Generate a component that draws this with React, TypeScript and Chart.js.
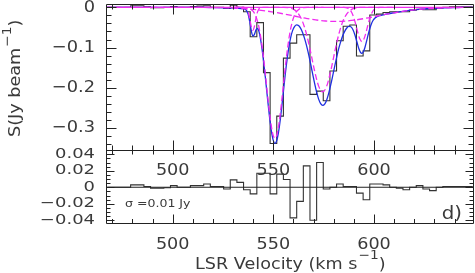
import React, { useEffect, useRef } from "react";
import { Chart, registerables } from "chart.js";

Chart.register(...registerables);

// ---------- DATA ----------
const channelVelocity = [
  467.55, 470.85, 474.15, 477.45, 480.75, 484.05, 487.35, 490.65, 493.95, 497.25,
  500.55, 503.85, 507.15, 510.45, 513.75, 517.05, 520.35, 523.65, 526.95, 530.25,
  533.55, 536.85, 540.15, 543.45, 546.75, 550.05, 553.35, 556.65, 559.95, 563.25,
  566.55, 569.85, 573.15, 576.45, 579.75, 583.05, 586.35, 589.65, 592.95, 596.25,
  599.55, 602.85, 606.15, 609.45, 612.75, 616.05, 619.35, 622.65, 625.95, 629.25,
  632.55, 635.85, 639.15, 642.45, 645.75, 649.05,
];

const spectrumFlux = [
  0, 0, 0, 0, 0.004, 0.004, 0.001, -0.001, -0.001, 0,
  0.002, 0, 0, 0.002, 0.003, 0.004, 0, 0, -0.003, 0.005,
  0, -0.011, -0.073, -0.038, -0.162, -0.338, -0.27, -0.126, -0.089, -0.068,
  -0.068, -0.216, -0.208, -0.232, -0.158, -0.083, -0.047, -0.044, -0.121, -0.108,
  -0.019, -0.017, -0.013, -0.011, -0.011, -0.011, -0.007, -0.005, -0.006, -0.006,
  -0.002, 0, 0.001, 0.001, 0.001, 0.001,
];

const residualFlux = [
  0, 0, 0, 0, 0.003, 0.003, 0.001, -0.001, -0.001, -0.0005,
  0.002, 0, 0, 0.002, 0.002, 0.004, 0.001, 0.001, -0.002, 0.009,
  0.006, -0.003, -0.008, 0.017, 0.017, -0.008, 0.016, 0.0095, -0.037, -0.017,
  0.026, -0.04, 0.03, -0.002, 0, 0.004, 0.001, 0.001, -0.007, -0.015,
  0.004, 0.004, 0.003, 0, -0.001, -0.003, 0, 0.002, -0.002, -0.004,
  0, 0.001, 0.001, 0.001, 0.001, 0.001,
];

// total fit (blue)
const fitVelocity = [
  467, 490, 505, 515, 522, 528, 532, 535, 536.5, 537.5, 538.3, 539, 539.8, 540.6, 541.4,
  542.2, 543, 544, 545, 546, 547, 548, 549, 550, 550.8, 551.6, 552.6, 553.6, 554.6, 555.6,
  556.6, 557.6, 558.6, 559.6, 560.6, 561.6, 562.5, 563.5, 564.5, 565.5, 566.5, 567.5, 568.5,
  569.5, 570.5, 571.5, 572.5, 573.5, 574.5, 575.5, 576.5, 577.5, 578.5, 579.5, 580.5, 581.5,
  582.5, 583.5, 584.5, 585.5, 586.5, 587.5, 588.5, 589.5, 590.5, 591.5, 592.5, 593.3, 594,
  594.7, 595.5, 596.5, 597.5, 598.5, 599.5, 600.5, 601.5, 603, 606, 610, 615, 620, 625, 630,
  635, 640, 645, 650,
];
const fitFlux = [
  0, 0, -0.0001, -0.0003, -0.0007, -0.0014, -0.0023, -0.0035, -0.0067, -0.0177, -0.0367, -0.0569, -0.071, -0.0672, -0.0561,
  -0.0526, -0.0628, -0.0899, -0.1276, -0.1725, -0.221, -0.2676, -0.306, -0.3308, -0.3374, -0.3321, -0.309, -0.2724, -0.2277, -0.181,
  -0.138, -0.1023, -0.0753, -0.0573, -0.0473, -0.0438, -0.0454, -0.0518, -0.0624, -0.077, -0.095, -0.1163, -0.14,
  -0.1647, -0.1889, -0.2105, -0.2278, -0.2391, -0.2434, -0.2401, -0.2298, -0.2134, -0.1927, -0.1695, -0.1457, -0.1228,
  -0.1021, -0.0844, -0.07, -0.059, -0.0513, -0.0475, -0.0483, -0.055, -0.0681, -0.0856, -0.1028, -0.1118, -0.1142,
  -0.1104, -0.0996, -0.0802, -0.06, -0.0437, -0.0328, -0.0264, -0.023, -0.0204, -0.0172, -0.0135, -0.0094, -0.0062, -0.0039, -0.0023,
  -0.0013, -0.0007, -0.0003, 0,
];

// fit components (magenta dashed)
const comp1Velocity = [530, 535, 536.5, 537.5, 538.3, 539, 539.8, 540.6, 541.3, 542.1, 543.1, 544.5, 550];
const comp1Flux = [0, 0, -0.0023, -0.0119, -0.0293, -0.0472, -0.057, -0.0472, -0.0293, -0.0119, -0.0023, 0, 0];

const comp2Velocity = [
  530, 535, 538, 539, 540, 541, 542, 543, 544, 545, 546, 547, 548, 549, 550, 550.8, 551.6,
  552.6, 553.6, 554.6, 555.6, 556.6, 557.6, 558.6, 559.6, 560.6, 561.6, 562.6, 563.6, 565, 567, 575,
];
const comp2Flux = [
  0, 0, -0.0025, -0.0052, -0.0101, -0.0187, -0.0325, -0.0532, -0.0822, -0.1195, -0.1638, -0.2116, -0.2574, -0.295, -0.319, -0.325, -0.319,
  -0.295, -0.2574, -0.2116, -0.1638, -0.1195, -0.0822, -0.0532, -0.0325, -0.0187, -0.0101, -0.0052, -0.0025, -0.0008, 0, 0,
];

const comp3Velocity = [
  550, 555, 558.5, 560.5, 562.5, 564.5, 566.5, 568.5, 570.5, 572.5, 574.5, 576.5, 578.5,
  580.5, 582.5, 584.5, 586.5, 588.5, 590.5, 594, 600,
];
const comp3Flux = [
  0, 0, -0.0022, -0.0064, -0.0162, -0.0354, -0.0672, -0.1107, -0.158, -0.1956, -0.21, -0.1956, -0.158,
  -0.1107, -0.0672, -0.0354, -0.0162, -0.0064, -0.0022, 0, 0,
];

const comp4Velocity = [580, 585, 587, 588, 589, 590, 591, 592, 593, 594, 595, 596, 597, 598, 599, 600, 601, 603, 610];
const comp4Flux = [0, 0, -0.0023, -0.0059, -0.0134, -0.026, -0.0437, -0.0632, -0.0789, -0.085, -0.0789, -0.0632, -0.0437, -0.026, -0.0134, -0.0059, -0.0023, 0, 0];

const comp5Velocity = [467, 510, 520, 530, 540, 550, 556, 561, 566, 571, 576, 581, 586, 591, 596, 601, 606, 612, 622, 632, 642, 650];
const comp5Flux = [0, 0, -0.0005, -0.0019, -0.0052, -0.0118, -0.0172, -0.0222, -0.0271, -0.0313, -0.034, -0.035, -0.034, -0.0313, -0.0271, -0.0222, -0.0172, -0.0118, -0.0052, -0.0019, -0.0005, 0];

// axes and labels
const xRange = [466.87, 649.68];
const xTickValues = [500, 550, 600];
const xTickLabels = ["500", "550", "600"];
const topYTickValues = [0, -0.1, -0.2, -0.3];
const topYTickLabels = ["0", "\u22120.1", "\u22120.2", "\u22120.3"];
const bottomYTickValues = [0.04, 0.02, 0, -0.02, -0.04];
const bottomYTickLabels = ["0.04", "0.02", "0", "\u22120.02", "\u22120.04"];
const topYRange = [-0.5377, 0.0082];
const bottomYRange = [-0.04448, 0.2222];
const dividerValue = 0.0443; // in residual units
const sigmaText = "\u03c3 =0.01 Jy";
const panelText = "d)";
const xTitle = "LSR Velocity (km s";
const yTitle = "S(Jy beam";
const unitSup = "\u22121";

// ---------- helpers ----------
const FONT = '"DejaVu Sans", "Liberation Sans", sans-serif';
const INK = "#222";
const TEXT_INK = "#3a3a3a";

function pts(xs: number[], ys: number[]) {
  return xs.map((x, i) => ({ x, y: ys[i] }));
}

function drawText(
  ctx: CanvasRenderingContext2D,
  text: string,
  x: number,
  y: number,
  size: number,
  align: "left" | "right" | "center",
  baseline: CanvasTextBaseline,
  scaleX: number
) {
  ctx.save();
  ctx.font = `${size}px ${FONT}`;
  ctx.textBaseline = baseline;
  ctx.textAlign = "left";
  ctx.fillStyle = TEXT_INK;
  const w = ctx.measureText(text).width * scaleX;
  const x0 = align === "right" ? x - w : align === "center" ? x - w / 2 : x;
  ctx.translate(x0, y);
  ctx.scale(scaleX, 1);
  ctx.fillText(text, 0, 0);
  ctx.restore();
  return w;
}

const framePlugin = {
  id: "framePlugin",
  afterDraw(chart: any) {
    const ctx: CanvasRenderingContext2D = chart.ctx;
    const xs = chart.scales.x;
    const ys = chart.scales.y;
    const y2 = chart.scales.y2;
    const area = chart.chartArea;
    const L = Math.round(area.left) + 0.5;
    const R = Math.round(area.right) - 0.5;
    const T = Math.round(area.top) + 0.5;
    const B = Math.round(area.bottom) - 0.5;
    const D = Math.round(y2.getPixelForValue(dividerValue)) - 0.5;

    ctx.save();
    ctx.strokeStyle = INK;
    ctx.lineWidth = 1;
    const line = (x1: number, y1: number, x2: number, y2p: number) => {
      ctx.beginPath();
      ctx.moveTo(x1, y1);
      ctx.lineTo(x2, y2p);
      ctx.stroke();
    };
    // frames
    line(L, T, R, T);
    line(L, D, R, D);
    line(L, B, R, B);
    line(L, T, L, B);
    line(R, T, R, B);

    // x ticks
    for (let v = 470; v <= 640; v += 10) {
      const px = Math.round(xs.getPixelForValue(v)) + 0.5;
      const major = v % 50 === 0;
      line(px, T, px, T + (major ? 10 : 5));
      line(px, D, px, D - (major ? 10 : 5));
      line(px, D, px, D + 4);
      line(px, B, px, B - (major ? 9 : 4.5));
    }
    // top panel y ticks
    for (let i = 0; i <= 17; i++) {
      const val = -0.02 * i;
      const py = Math.round(ys.getPixelForValue(val)) + 0.5;
      const major = i % 5 === 0;
      const len = major ? 10 : 5;
      line(L, py, L + len, py);
      line(R, py, R - len, py);
    }
    // bottom panel y ticks
    for (let i = -8; i <= 8; i++) {
      const val = 0.005 * i;
      const py = Math.round(y2.getPixelForValue(val)) + 0.5;
      const major = i % 4 === 0;
      const len = major ? 8 : 4;
      line(L, py, L + len, py);
      line(R, py, R - len, py);
    }
    ctx.restore();

    // tick labels
    topYTickValues.forEach((v, i) => {
      drawText(ctx, topYTickLabels[i], 95, ys.getPixelForValue(v), 16.5, "right", "middle", 1.08);
    });
    bottomYTickValues.forEach((v, i) => {
      drawText(ctx, bottomYTickLabels[i], 95, y2.getPixelForValue(v), 14, "right", "middle", 1.28);
    });
    xTickValues.forEach((v, i) => {
      const px = xs.getPixelForValue(v);
      drawText(ctx, xTickLabels[i], px, 171, 16, "center", "middle", 1.1);
      drawText(ctx, xTickLabels[i], px, 244.5, 16, "center", "middle", 1.1);
    });

    // x title
    let cx = 195;
    cx += drawText(ctx, xTitle, cx, 269, 16, "left", "alphabetic", 1.1);
    cx += drawText(ctx, unitSup, cx + 1, 259, 12.5, "left", "alphabetic", 1.1) + 1;
    drawText(ctx, ")", cx, 269, 16, "left", "alphabetic", 1.1);

    // y title (rotated)
    ctx.save();
    ctx.translate(20, 137);
    ctx.rotate(-Math.PI / 2);
    let cy = 0;
    cy += drawText(ctx, yTitle, cy, 0, 16, "left", "alphabetic", 1.1);
    cy += drawText(ctx, unitSup, cy + 1, -9, 12.5, "left", "alphabetic", 1.1) + 1;
    drawText(ctx, ")", cy, 0, 16, "left", "alphabetic", 1.1);
    ctx.restore();

    // annotations
    drawText(ctx, sigmaText, 125, 204.5, 11, "left", "middle", 1.14);
    drawText(ctx, panelText, 462, 219, 18, "right", "alphabetic", 1.1);
  },
};

export default function App() {
  const canvasRef = useRef<HTMLCanvasElement | null>(null);

  useEffect(() => {
    document.body.style.margin = "0";
    const canvas = canvasRef.current;
    if (!canvas) return;
    const magenta = "#f02cf0";
    const dash = [6, 3];
    const compStyle = {
      borderColor: magenta,
      borderWidth: 1.3,
      borderDash: dash,
      pointRadius: 0,
      cubicInterpolationMode: "monotone" as const,
      yAxisID: "y",
    };
    const chart = new Chart(canvas, {
      type: "line",
      data: {
        datasets: [
          { ...compStyle, data: pts(comp1Velocity, comp1Flux) },
          { ...compStyle, data: pts(comp2Velocity, comp2Flux) },
          { ...compStyle, data: pts(comp3Velocity, comp3Flux) },
          { ...compStyle, data: pts(comp4Velocity, comp4Flux) },
          { ...compStyle, data: pts(comp5Velocity, comp5Flux) },
          {
            data: pts(xRange, [0, 0]),
            borderColor: magenta,
            borderWidth: 1.3,
            pointRadius: 0,
            yAxisID: "y",
          },
          {
            data: pts(fitVelocity, fitFlux),
            borderColor: "#1f2fe0",
            borderWidth: 1.3,
            pointRadius: 0,
            cubicInterpolationMode: "monotone",
            yAxisID: "y",
          },
          {
            data: pts(channelVelocity, spectrumFlux),
            borderColor: "#333",
            borderWidth: 1.1,
            pointRadius: 0,
            stepped: "middle",
            yAxisID: "y",
          },
          {
            data: pts(xRange, [0, 0]),
            borderColor: "#222",
            borderWidth: 1.1,
            pointRadius: 0,
            yAxisID: "y2",
          },
          {
            data: pts(channelVelocity, residualFlux),
            borderColor: "#333",
            borderWidth: 1.1,
            pointRadius: 0,
            stepped: "middle",
            yAxisID: "y2",
          },
        ],
      },
      options: {
        animation: false,
        responsive: false,
        devicePixelRatio: 1,
        layout: { padding: { left: 106, right: 1, top: 4, bottom: 49 } },
        plugins: {
          legend: { display: false },
          tooltip: { enabled: false },
          title: { display: false },
        },
        scales: {
          x: { type: "linear", min: xRange[0], max: xRange[1], display: false },
          y: { type: "linear", min: topYRange[0], max: topYRange[1], display: false },
          y2: { type: "linear", min: bottomYRange[0], max: bottomYRange[1], display: false },
        },
      },
      plugins: [framePlugin],
    });
    return () => chart.destroy();
  }, []);

  return (
    <div style={{ width: 475, height: 273, background: "#fff" }}>
      <canvas ref={canvasRef} width={475} height={273} style={{ display: "block" }} />
    </div>
  );
}
